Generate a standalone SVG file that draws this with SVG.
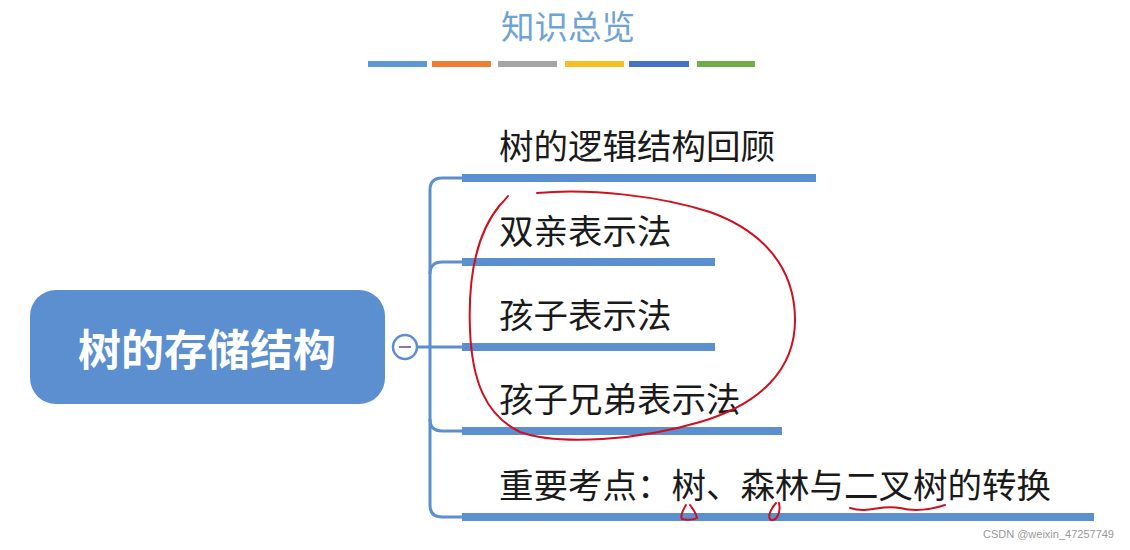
<svg xmlns="http://www.w3.org/2000/svg" width="1130" height="550" viewBox="0 0 1130 550">
<style>
.t{font-family:"Noto Sans CJK SC","Noto Sans",sans-serif;font-size:34.5px;fill:#1a1a1a}
.bar{fill:#5B8FD0}
.con{fill:none;stroke:#5B8FD0;stroke-width:3}
.red{fill:none;stroke:#D0101E;stroke-width:2;stroke-linecap:round;stroke-linejoin:round}
</style>
<rect width="1130" height="550" fill="#fff"/>
<g id="title">
<text x="568" y="39" text-anchor="middle" font-family="Noto Sans CJK SC,sans-serif" font-size="33.5" fill="#6FA3D6">知识总览</text>
<rect x="368" y="61" width="59" height="6" fill="#5B9BD5"/>
<rect x="432" y="61" width="59" height="6" fill="#ED7D31"/>
<rect x="498" y="61" width="59" height="6" fill="#A5A5A5"/>
<rect x="565" y="61" width="59" height="6" fill="#F5C023"/>
<rect x="629" y="61" width="60" height="6" fill="#4472C4"/>
<rect x="697" y="61" width="58" height="6" fill="#70AD47"/>
</g>
<g id="connectors">
<path class="con" d="M417 347 H462"/>
<path class="con" d="M462 178 H442 Q430 178 430 190 V505 Q430 517 442 517 H462"/>
<path class="con" d="M430 274 Q430 262 442 262 H462"/>
<path class="con" d="M430 419 Q430 431 442 431 H462"/>
</g>
<g id="root">
<rect x="30" y="290" width="355" height="114" rx="26" fill="#5B8FD0"/>
<text x="207" y="366" text-anchor="middle" font-family="Noto Sans CJK SC,sans-serif" font-size="43" font-weight="bold" fill="#fff">树的存储结构</text>
</g>
<g id="collapse">
<circle cx="405" cy="347" r="12" fill="#fff" stroke="#5B8FD0" stroke-width="2.5"/>
<line x1="399" y1="347" x2="411" y2="347" stroke="#8a7a9a" stroke-width="2"/>
</g>
<g id="n1">
<text class="t" x="499" y="159">树的逻辑结构回顾</text>
<rect class="bar" x="462" y="174" width="354" height="8"/>
</g>
<g id="n2">
<text class="t" x="499" y="244">双亲表示法</text>
<rect class="bar" x="462" y="258" width="253" height="8"/>
</g>
<g id="n3">
<text class="t" x="499" y="328">孩子表示法</text>
<rect class="bar" x="462" y="343" width="253" height="8"/>
</g>
<g id="n4">
<text class="t" x="499" y="412">孩子兄弟表示法</text>
<rect class="bar" x="462" y="427" width="320" height="8"/>
</g>
<g id="n5">
<text class="t" x="499" y="498">重要考点：树、森林与二叉树的转换</text>
<rect class="bar" x="462" y="513" width="632" height="8"/>
</g>
<g id="annotations">
<path class="red" d="M508 196 Q505 200 500 205 C475 235 468 280 470 330 C472 380 485 415 520 432 C560 446 640 440 700 422 C760 404 795 370 795 320 C795 265 760 230 710 212 C660 196 590 188 537 193"/>
<path class="red" d="M850 508 C870 514 880 504 900 508 C915 512 930 510 945 505"/>
<path class="red" d="M686 505 C683 510 680 516 682 519 C686 520 694 520 697 518 C696 512 692 508 690 505"/>
<path class="red" d="M776 503 C770 510 767 518 771 520 C777 521 781 512 779 503"/>
</g>
<text x="1114" y="538" text-anchor="end" font-family="Liberation Sans,sans-serif" font-size="11" fill="#999">CSDN @weixin_47257749</text>
</svg>
